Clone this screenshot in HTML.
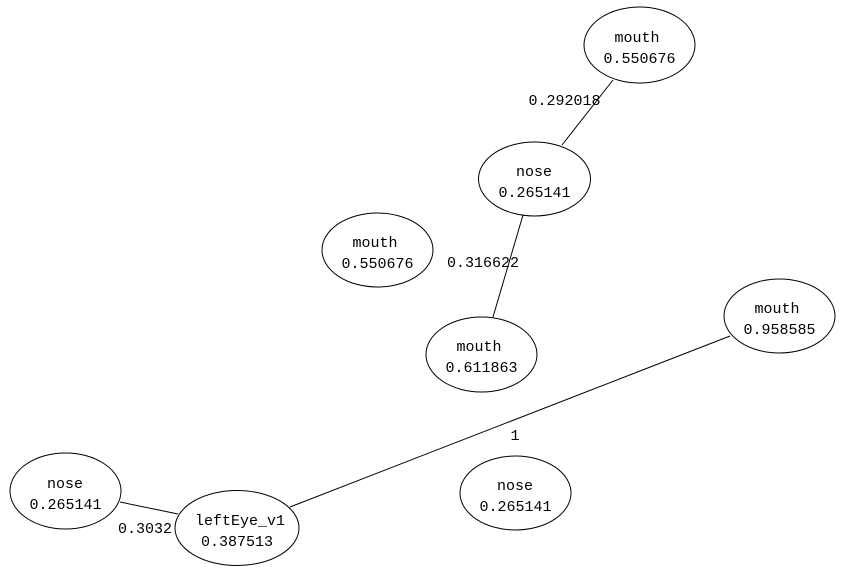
<!DOCTYPE html>
<html>
<head>
<meta charset="utf-8">
<style>
  html, body { margin: 0; padding: 0; background: #fff; }
  svg { display: block; }
  text { font-family: "Liberation Mono", "DejaVu Sans Mono", monospace; font-size: 15px; fill: #000; }
</style>
</head>
<body>
<svg width="844" height="574" viewBox="0 0 844 574" xmlns="http://www.w3.org/2000/svg">
  <rect width="844" height="574" fill="#fff"/>
  <g stroke="#000" stroke-width="1" fill="none">
    <!-- edges -->
    <line x1="613" y1="80" x2="562" y2="145"/>
    <line x1="523" y1="215" x2="493" y2="317"/>
    <line x1="290" y1="507" x2="730" y2="336"/>
    <line x1="120" y1="502" x2="178" y2="514"/>
    <!-- nodes -->
    <ellipse cx="639.5" cy="45" rx="55.5" ry="38"/>
    <ellipse cx="534.5" cy="179" rx="56" ry="37"/>
    <ellipse cx="377.5" cy="250" rx="55.5" ry="37"/>
    <ellipse cx="481.5" cy="354.5" rx="55.5" ry="37.5"/>
    <ellipse cx="779.5" cy="316" rx="55.5" ry="37"/>
    <ellipse cx="515.5" cy="493" rx="55.5" ry="37"/>
    <ellipse cx="65.5" cy="491" rx="55.5" ry="38"/>
    <ellipse cx="237" cy="528" rx="62" ry="37.5"/>
  </g>
  <g text-anchor="middle">
    <text x="637" y="42">mouth</text>
    <text x="639.5" y="63">0.550676</text>

    <text x="534" y="176">nose</text>
    <text x="534.5" y="197">0.265141</text>

    <text x="375" y="247">mouth</text>
    <text x="377.5" y="268">0.550676</text>

    <text x="479" y="351">mouth</text>
    <text x="481.5" y="372">0.611863</text>

    <text x="777" y="313">mouth</text>
    <text x="779.5" y="334">0.958585</text>

    <text x="515" y="490">nose</text>
    <text x="515.5" y="511">0.265141</text>

    <text x="65" y="488">nose</text>
    <text x="65.5" y="509">0.265141</text>

    <text x="240" y="525">leftEye_v1</text>
    <text x="237" y="546">0.387513</text>

    <!-- edge labels -->
    <text x="564.5" y="105">0.292018</text>
    <text x="483" y="267">0.316622</text>
    <text x="515" y="440">1</text>
    <text x="145" y="533">0.3032</text>
  </g>
</svg>
</body>
</html>
